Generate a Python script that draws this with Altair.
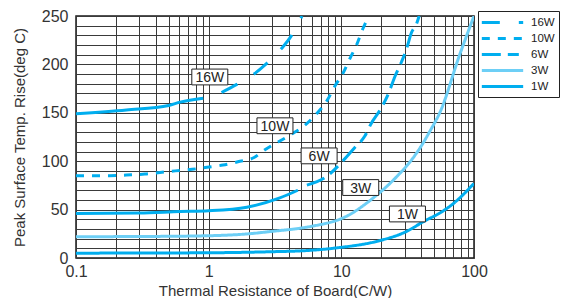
import altair as alt
import pandas as pd

FONT = "Liberation Sans"

series_order = ["16W", "10W", "6W", "3W", "1W"]
series_colors = ["#00AEEF", "#00AEEF", "#00AEEF", "#6DCFF6", "#00AEEF"]
series_dashes = [[18, 19], [8, 8], [19, 7, 11, 7], [1, 0], [1, 0]]

# 16W: solid part then dashed part
r16_solid = [0.1, 0.24, 0.5, 0.61, 0.91]
t16_solid = [149, 153, 157.6, 161, 165]
r16_dash = [1.25, 1.63, 2.17, 2.74, 3.54, 4.22, 5.05]
t16_dash = [171, 179.4, 189.5, 201, 216.4, 230, 250]

# 10W: dashed everywhere
r10 = [0.1, 0.18, 0.24, 0.33, 0.43, 0.56, 0.75, 0.97, 1.28, 1.66, 2.2, 2.58, 4.1,
       5.3, 6.5, 7.8, 8.95, 10.3, 11.6, 13.0, 14.5, 15.8, 16.1]
t10 = [85, 85, 85.7, 86.7, 88.4, 90, 91.6, 93.7, 96, 99.4, 103.8, 110.6, 127,
       137, 149, 162.6, 177.7, 191, 206, 219.8, 236.6, 248, 251]

# 6W: solid part then dashed part
r6_solid = [0.1, 0.3, 0.61, 1.0, 1.94, 3.4, 4.7]
t6_solid = [46, 46.5, 48, 48.8, 52.5, 61.8, 70]
r6_dash = [5.5, 7.95, 10.3, 12.6, 15.0, 16.8, 19.5, 22.5, 25.4, 28.5, 31.0, 33.8, 36.8, 38.6]
t6_dash = [75.3, 85.4, 100.5, 114, 125.7, 139, 152.5, 169, 187.8, 203, 216, 233, 241.6, 250]

# 3W: solid
r3 = [0.1, 0.3, 1.0, 2.0, 3.0, 5.0, 6.1, 10.9, 17.3, 26.0, 34.9, 40.0, 46.4, 55.6, 78.0, 100.0]
t3 = [22, 22.2, 23, 25, 27.5, 31, 33, 43, 61.8, 83.7, 103.8, 115.6, 130.7, 151, 210, 250]

# 1W: solid
r1 = [0.1, 1.0, 3.0, 5.0, 9.3, 19.5, 30.0, 42.5, 55.6, 69.5, 100.0]
t1 = [5, 5.4, 6.5, 7.4, 10.5, 18, 26.5, 38.3, 46.7, 56, 77]

# in-plot boxed labels
label_text = ["16W", "10W", "6W", "3W", "1W"]
label_r = [1.02, 3.16, 6.8, 14.0, 31.5]
label_t = [187, 136.6, 105.5, 72.8, 45.5]

x_grid = [0.1, 0.2, 0.3, 0.4, 0.5, 0.6, 0.7, 0.8, 0.9,
          1, 2, 3, 4, 5, 6, 7, 8, 9,
          10, 20, 30, 40, 50, 60, 70, 80, 90, 100]
y_grid = [0, 10, 20, 30, 40, 50, 60, 70, 80, 90, 100, 110, 120,
          130, 140, 150, 160, 170, 180, 190, 200, 210, 220, 230, 240, 250]


def frame(name, xs, ys):
    return pd.DataFrame({"series": name, "R": xs, "T": ys})


df_main = pd.concat([
    frame("16W", r16_dash, t16_dash),
    frame("10W", r10, t10),
    frame("6W", r6_dash, t6_dash),
    frame("3W", r3, t3),
    frame("1W", r1, t1),
], ignore_index=True)

df_solid = pd.concat([
    frame("16W", r16_solid, t16_solid),
    frame("6W", r6_solid, t6_solid),
], ignore_index=True)

df_labels = pd.DataFrame({"text": label_text, "R": label_r, "T": label_t})

x_enc = alt.X(
    "R:Q",
    scale=alt.Scale(type="log", domain=[0.1, 100], nice=False),
    axis=alt.Axis(
        title="Thermal Resistance of Board(C/W)",
        values=x_grid,
        format="~g",
        labelExpr="(datum.value == 0.1 || datum.value == 1 || datum.value == 10 || datum.value == 100) ? datum.label : ''",
        labelOverlap=False,
        labelFlush=False,
        ticks=False,
        domain=False,
        grid=True,
        labelPadding=5,
        titlePadding=4,
    ),
)
y_enc = alt.Y(
    "T:Q",
    scale=alt.Scale(domain=[0, 250], nice=False),
    axis=alt.Axis(
        title="Peak Surface Temp. Rise(deg C)",
        values=y_grid,
        labelExpr="datum.value % 50 == 0 ? datum.label : ''",
        labelOverlap=False,
        labelFlush=False,
        labelBound=False,
        ticks=False,
        domain=False,
        grid=True,
        labelPadding=8,
        titlePadding=14,
    ),
)

color_enc = alt.Color(
    "series:N",
    scale=alt.Scale(domain=series_order, range=series_colors),
    legend=alt.Legend(
        title=None,
        orient="none",
        legendX=402,
        legendY=-5,
        symbolType="M-3.6,0H3.6",
        symbolSize=132,
        symbolOffset=13,
        symbolStrokeWidth=3,
        labelFontSize=11.5,
        labelFont=FONT,
        labelColor="#222222",
        labelOffset=21,
        padding=4,
        strokeColor="#222222",
        fillColor="white",
        cornerRadius=0,
        rowPadding=2,
    ),
)
dash_enc = alt.StrokeDash(
    "series:N",
    scale=alt.Scale(domain=series_order, range=series_dashes),
    legend=alt.Legend(title=None),
)

main_lines = alt.Chart(df_main).mark_line(
    strokeWidth=3, interpolate="monotone", clip=True
).encode(x=x_enc, y=y_enc, color=color_enc, strokeDash=dash_enc)

solid_lines = alt.Chart(df_solid).mark_line(
    strokeWidth=3, interpolate="monotone", clip=True
).encode(x=x_enc, y=y_enc, color=color_enc)

boxes = alt.Chart(df_labels).mark_point(
    shape="M-1,-0.44H1V0.44H-1Z",
    size=1296,
    filled=True,
    fill="white",
    stroke="#222222",
    strokeWidth=1,
    opacity=1,
).encode(x=x_enc, y=y_enc)

texts = alt.Chart(df_labels).mark_text(
    font=FONT, fontSize=14, color="#222222", baseline="middle", align="center", dy=1
).encode(x=x_enc, y=y_enc, text="text:N")

chart = alt.layer(solid_lines, main_lines, boxes, texts).properties(
    width=398,
    height=242,
    autosize=alt.AutoSizeParams(type="none"),
    padding={"left": 68, "top": 8, "right": 86, "bottom": 40},
).configure_view(
    stroke="#1a1a1a", strokeWidth=1.5
).configure_axis(
    gridColor="#3a3a3a",
    gridWidth=1,
    gridOpacity=1,
    labelFont=FONT,
    labelFontSize=16,
    labelColor="#333333",
    labelOverlap=False,
    titleFont=FONT,
    titleFontSize=15,
    titleFontWeight="normal",
    titleColor="#333333",
)

chart.save("out.html", embed_options={"renderer": "svg", "actions": False})
